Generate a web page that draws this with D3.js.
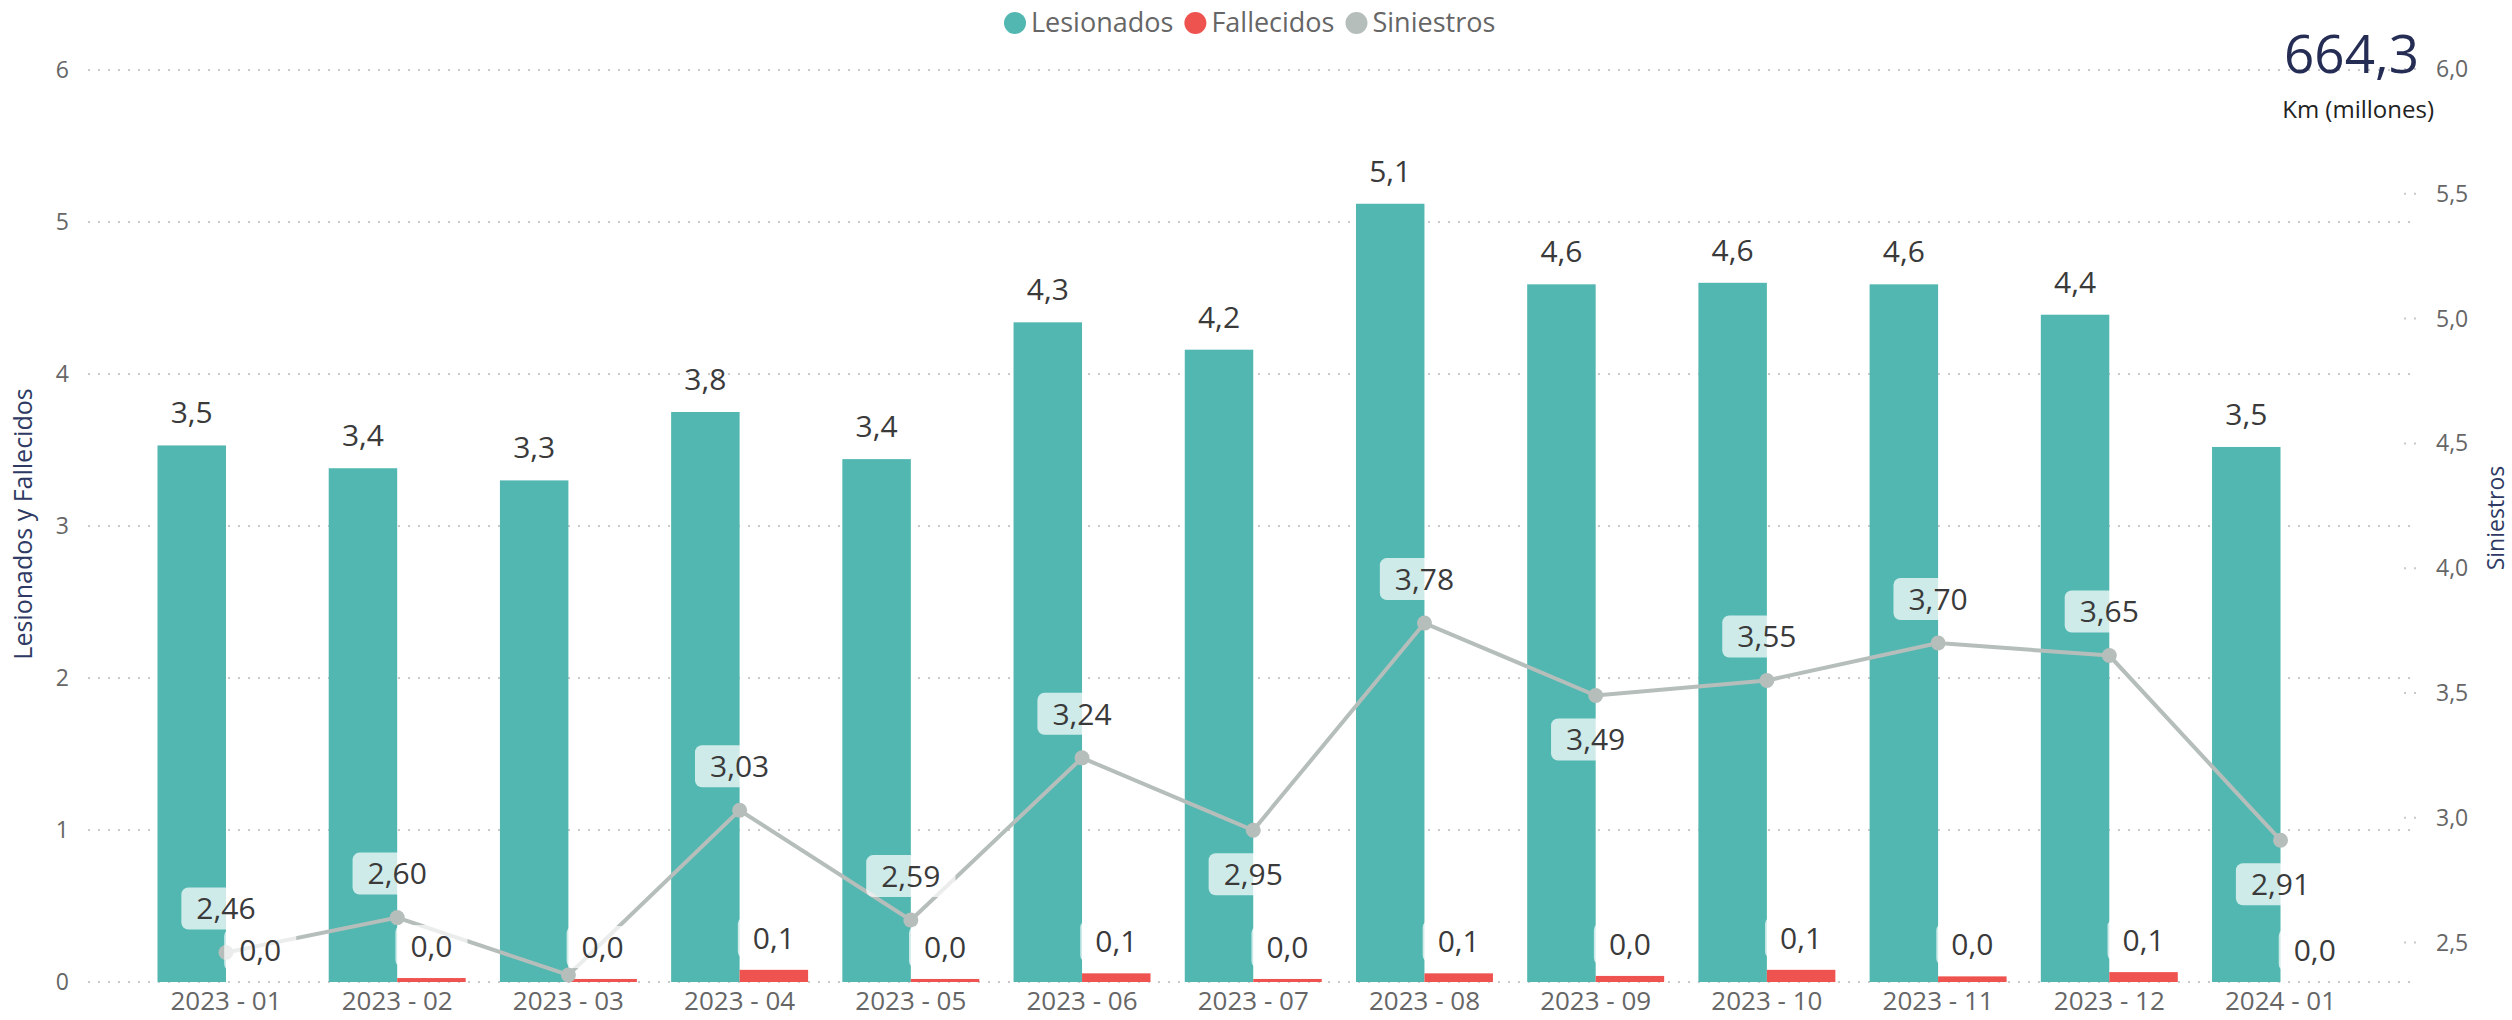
<!DOCTYPE html>
<html>
<head>
<meta charset="utf-8">
<script src="https://cdn.jsdelivr.net/npm/d3@7"></script>
<style>
  html, body { margin:0; padding:0; background:#fff; }
  svg { display:block; font-family:"Open Sans", "Noto Sans", sans-serif; }
</style>
</head>
<body>
<svg id="chart" width="2512" height="1020"></svg>
<script>
// Monthly Lesionados / Fallecidos (bars, left axis) and Siniestros (line, right axis)
const months = ['2023 - 01','2023 - 02','2023 - 03','2023 - 04','2023 - 05','2023 - 06','2023 - 07','2023 - 08','2023 - 09','2023 - 10','2023 - 11','2023 - 12','2024 - 01'];
const lesionados = [3.53, 3.38, 3.30, 3.75, 3.44, 4.34, 4.16, 5.12, 4.59, 4.60, 4.59, 4.39, 3.52];
const fallecidos = [0.00, 0.026, 0.02, 0.08, 0.02, 0.057, 0.02, 0.057, 0.04, 0.08, 0.037, 0.065, 0.00];
const siniestros = [2.46, 2.60, 2.37, 3.03, 2.59, 3.24, 2.95, 3.78, 3.49, 3.55, 3.70, 3.65, 2.91];
// where Power BI put the line labels (none = hidden)
const siniestrosLabelPos = ['above','above','none','above','above','above','below','above','below','above','above','above','below'];
const leftTicks = [0, 1, 2, 3, 4, 5, 6];
const rightTicks = [2.5, 3.0, 3.5, 4.0, 4.5, 5.0, 5.5, 6.0];
const kmTotal = '664,3';

(function(){
  const svg = d3.select('#chart');
  const TEAL = '#52b7b1', RED = '#ef5350', GREY = '#b5beba';
  const NAVY = '#2e3a63';
  const es = d3.formatLocale({decimal:',', thousands:'.', grouping:[3], currency:['','€']});
  const f1 = es.format('.1f'), f2 = es.format('.2f');

  const gridX0 = 88, gridX1 = 2411;
  const yTop = 70, yBot = 982;

  const x = d3.scaleBand().domain(months).range([157.5, 2349]).paddingInner(0.2).paddingOuter(0);
  const xs = d3.scaleBand().domain(['les','fal']).range([0, x.bandwidth()]);
  const yL = d3.scaleLinear().domain([0, 6]).range([yBot, yTop]);
  const yR = d3.scaleLinear().domain([2.342, 6.0]).range([yBot, 69]);

  // gridlines
  const grid = svg.append('g').attr('class','grid');
  grid.selectAll('line.l').data(leftTicks).join('line')
    .attr('class','l')
    .attr('x1', gridX0).attr('x2', gridX1)
    .attr('y1', d => yL(d)).attr('y2', d => yL(d))
    .attr('stroke','#c9c9c9').attr('stroke-width',2).attr('stroke-dasharray','2,8');
  grid.selectAll('line.r').data(rightTicks).join('line')
    .attr('class','r')
    .attr('x1', 2404).attr('x2', 2422)
    .attr('y1', d => yR(d)).attr('y2', d => yR(d))
    .attr('stroke','#c9c9c9').attr('stroke-width',2).attr('stroke-dasharray','2,8');

  // axis tick labels
  svg.append('g').selectAll('text').data(leftTicks).join('text')
    .attr('x', 69).attr('y', d => yL(d)).attr('dy','0.35em')
    .attr('text-anchor','end').attr('fill','#666').style('font-size','23px')
    .text(d => d);
  svg.append('g').selectAll('text').data(rightTicks).join('text')
    .attr('x', 2436).attr('y', d => yR(d)).attr('dy','0.35em')
    .attr('fill','#666').style('font-size','23px')
    .text(d => f1(d));
  svg.append('g').selectAll('text').data(months).join('text')
    .attr('x', d => x(d) + x.bandwidth()/2).attr('y', 1010)
    .attr('text-anchor','middle').attr('fill','#666').style('font-size','26px')
    .text(d => d);

  // axis titles
  svg.append('text')
    .attr('transform','translate(32,524) rotate(-90)')
    .attr('text-anchor','middle').attr('fill',NAVY).style('font-size','25px')
    .text('Lesionados y Fallecidos');
  svg.append('text')
    .attr('transform','translate(2504,518) rotate(-90)')
    .attr('text-anchor','middle').attr('fill',NAVY).style('font-size','23px')
    .text('Siniestros');

  // bars
  const bars = svg.append('g').attr('class','bars');
  bars.selectAll('rect.les').data(months).join('rect')
    .attr('class','les')
    .attr('x', d => x(d) + xs('les')).attr('width', xs.bandwidth())
    .attr('y', (d,i) => yL(lesionados[i])).attr('height', (d,i) => yBot - yL(lesionados[i]))
    .attr('fill', TEAL);
  bars.selectAll('rect.fal').data(months).join('rect')
    .attr('class','fal')
    .attr('x', d => x(d) + xs('fal')).attr('width', xs.bandwidth())
    .attr('y', (d,i) => yL(fallecidos[i])).attr('height', (d,i) => yBot - yL(fallecidos[i]))
    .attr('fill', RED);

  // siniestros line
  const cx = d => x(d) + x.bandwidth()/2;
  const line = d3.line().x((d,i) => cx(months[i])).y(d => yR(d));
  svg.append('path').datum(siniestros)
    .attr('d', line).attr('fill','none').attr('stroke',GREY).attr('stroke-width',4);
  svg.append('g').selectAll('circle').data(siniestros).join('circle')
    .attr('cx', (d,i) => cx(months[i])).attr('cy', d => yR(d)).attr('r', 7.5)
    .attr('fill', GREY);

  // data labels
  const labels = svg.append('g').attr('class','labels').style('font-size','30px');
  labels.selectAll('text.les').data(lesionados).join('text')
    .attr('class','les')
    .attr('x', (d,i) => x(months[i]) + xs('les') + xs.bandwidth()/2)
    .attr('y', d => yL(d) - 22)
    .attr('text-anchor','middle').attr('fill','#3a3a3a')
    .text(d => f1(d));

  function boxLabel(g, tx, cy, txt) {
    const t = g.append('text').attr('x', tx).attr('y', cy).attr('dy','0.36em')
      .attr('text-anchor','middle').attr('fill','#3a3a3a').text(txt);
    const w = t.node().getComputedTextLength() + 30;
    g.insert('rect','text')
      .attr('x', tx - w/2).attr('y', cy - 21).attr('width', w).attr('height', 42)
      .attr('rx', 7).attr('fill','#fff').attr('fill-opacity',0.72);
  }

  fallecidos.forEach((v,i) => {
    const g = labels.append('g');
    const tx = x(months[i]) + xs('fal') + xs.bandwidth()/2;
    boxLabel(g, tx, yL(v) - 11 - 21, f1(v));
  });
  siniestros.forEach((v,i) => {
    const pos = siniestrosLabelPos[i];
    if (pos === 'none') return;
    const g = labels.append('g');
    const py = yR(v);
    const cy = pos === 'above' ? py - 23 - 21 : py + 23 + 21;
    boxLabel(g, cx(months[i]), cy, f2(v));
  });

  // legend
  const legend = svg.append('g').attr('class','legend').style('font-size','27px');
  const items = [['Lesionados',TEAL],['Fallecidos',RED],['Siniestros',GREY]];
  let lx = 1004;
  items.forEach(([name,col]) => {
    legend.append('circle').attr('cx', lx + 11).attr('cy', 23).attr('r', 11).attr('fill', col);
    const t = legend.append('text').attr('x', lx + 27).attr('y', 23).attr('dy','0.35em')
      .attr('fill','#666').text(name);
    lx += 27 + t.node().getComputedTextLength() + 11;
  });

  // km card, top right
  svg.append('text').attr('x', 2419).attr('y', 73).attr('text-anchor','end')
    .attr('fill','#252d55').style('font-size','53px').text(kmTotal);
  svg.append('text').attr('x', 2434).attr('y', 118).attr('text-anchor','end')
    .attr('fill','#222').style('font-size','24px').text('Km (millones)');
})();
</script>
</body>
</html>
